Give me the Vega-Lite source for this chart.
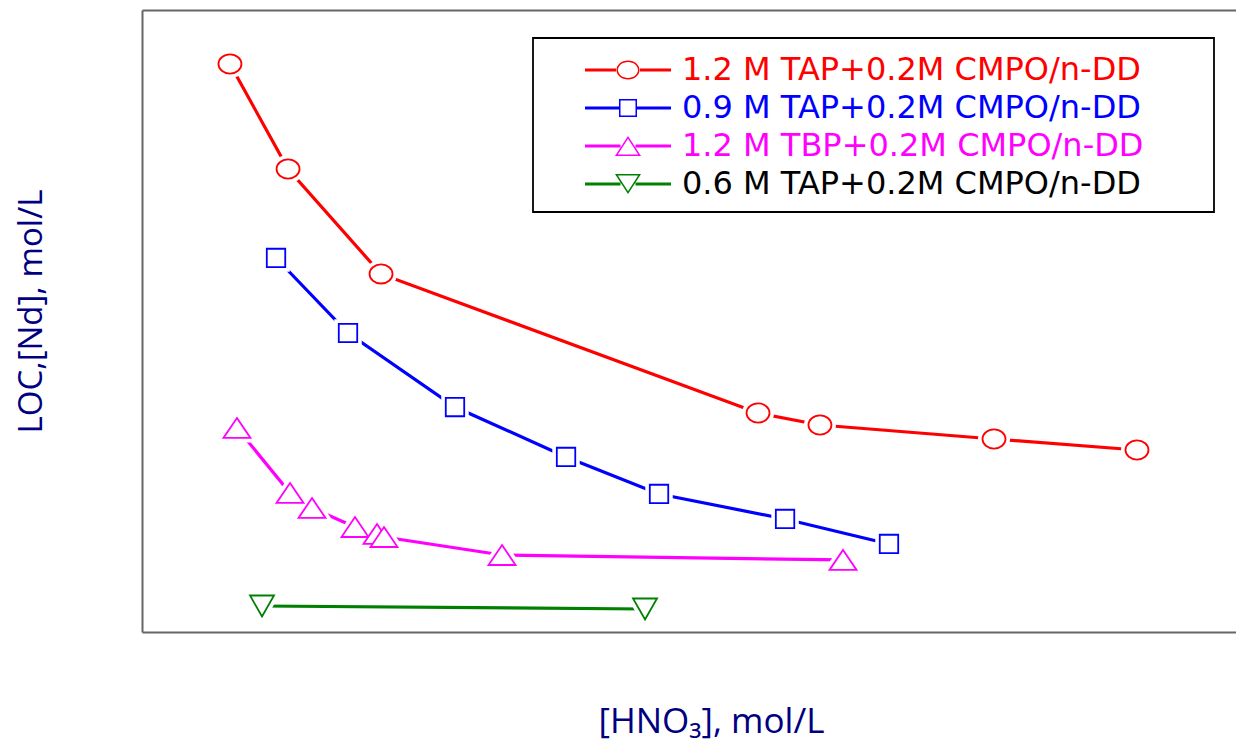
{
  "$schema": "https://vega.github.io/schema/vega-lite/v6.json",
  "width": 1094,
  "height": 622,
  "autosize": "none",
  "padding": {"left": 142, "top": 10, "right": 0, "bottom": 117},
  "background": "white",
  "config": {"view": {"stroke": null}},
  "data": {
    "values": [
      {"series": "1.2 M TAP+0.2M CMPO/n-DD", "x": 0.804, "y": 9.132},
      {"series": "1.2 M TAP+0.2M CMPO/n-DD", "x": 1.335, "y": 7.444},
      {"series": "1.2 M TAP+0.2M CMPO/n-DD", "x": 2.185, "y": 5.756},
      {"series": "1.2 M TAP+0.2M CMPO/n-DD", "x": 5.631, "y": 3.521},
      {"series": "1.2 M TAP+0.2M CMPO/n-DD", "x": 6.197, "y": 3.328},
      {"series": "1.2 M TAP+0.2M CMPO/n-DD", "x": 7.788, "y": 3.103},
      {"series": "1.2 M TAP+0.2M CMPO/n-DD", "x": 9.095, "y": 2.926},
      {"series": "0.9 M TAP+0.2M CMPO/n-DD", "x": 1.225, "y": 6.013},
      {"series": "0.9 M TAP+0.2M CMPO/n-DD", "x": 1.883, "y": 4.807},
      {"series": "0.9 M TAP+0.2M CMPO/n-DD", "x": 2.861, "y": 3.617},
      {"series": "0.9 M TAP+0.2M CMPO/n-DD", "x": 3.876, "y": 2.814},
      {"series": "0.9 M TAP+0.2M CMPO/n-DD", "x": 4.726, "y": 2.219},
      {"series": "0.9 M TAP+0.2M CMPO/n-DD", "x": 5.878, "y": 1.817},
      {"series": "0.9 M TAP+0.2M CMPO/n-DD", "x": 6.828, "y": 1.415},
      {"series": "1.2 M TBP+0.2M CMPO/n-DD", "x": 0.868, "y": 3.28},
      {"series": "1.2 M TBP+0.2M CMPO/n-DD", "x": 1.353, "y": 2.235},
      {"series": "1.2 M TBP+0.2M CMPO/n-DD", "x": 1.554, "y": 1.994},
      {"series": "1.2 M TBP+0.2M CMPO/n-DD", "x": 1.947, "y": 1.688},
      {"series": "1.2 M TBP+0.2M CMPO/n-DD", "x": 2.148, "y": 1.576},
      {"series": "1.2 M TBP+0.2M CMPO/n-DD", "x": 2.212, "y": 1.527},
      {"series": "1.2 M TBP+0.2M CMPO/n-DD", "x": 3.291, "y": 1.238},
      {"series": "1.2 M TBP+0.2M CMPO/n-DD", "x": 6.408, "y": 1.158},
      {"series": "0.6 M TAP+0.2M CMPO/n-DD", "x": 1.097, "y": 0.418},
      {"series": "0.6 M TAP+0.2M CMPO/n-DD", "x": 4.598, "y": 0.37}
    ]
  },
  "encoding": {
    "y": {
      "field": "y", "type": "quantitative",
      "scale": {"domain": [0, 10], "nice": false, "zero": false},
      "axis": {
        "title": "LOC,[Nd], mol/L",
        "domain": true, "domainColor": "#666666", "domainWidth": 2,
        "ticks": false, "labels": false, "grid": false,
        "titleFont": "Open Sans", "titleFontSize": 33, "titleFontWeight": "normal",
        "titleColor": "#000080", "titleAngle": -90,
        "titleX": -111, "titleY": 301, "titleAlign": "center", "titleBaseline": "middle"
      }
    },
    "x": {
      "field": "x", "type": "quantitative",
      "scale": {"domain": [0, 10], "nice": false, "zero": false},
      "axis": null
    }
  },
  "resolve": {"axis": {"x": "independent"}},
  "layer": [
    {
      "mark": {"type": "line", "strokeWidth": 3.2},
      "encoding": {
        "x": {
          "field": "x", "type": "quantitative",
          "scale": {"domain": [0, 10], "nice": false, "zero": false},
          "axis": {
            "orient": "bottom", "title": "[HNO₃], mol/L",
            "domain": true, "domainColor": "#666666", "domainWidth": 2,
            "ticks": false, "labels": false, "grid": false,
            "titleFont": "Open Sans", "titleFontSize": 35, "titleFontWeight": "normal",
            "titleColor": "#000080", "titleX": 569, "titleY": 100,
            "titleAlign": "center", "titleBaseline": "alphabetic"
          }
        },
        "color": {
          "field": "series", "type": "nominal",
          "scale": {
            "domain": ["1.2 M TAP+0.2M CMPO/n-DD", "0.9 M TAP+0.2M CMPO/n-DD", "1.2 M TBP+0.2M CMPO/n-DD", "0.6 M TAP+0.2M CMPO/n-DD"],
            "range": ["#ff0000", "#0000ff", "#ff00ff", "#008000"]
          },
          "legend": {
            "title": " ", "titleFontSize": 1, "titlePadding": 6, "titleColor": "#ffffff",
            "orient": "none", "legendX": 391, "legendY": 28,
            "padding": 9, "rowPadding": 0,
            "strokeColor": "#000000", "fillColor": "#ffffff",
            "labelFont": "DejaVu Sans", "labelFontSize": 32,
            "symbolOffset": 70, "labelOffset": 38, "symbolSize": 400, "symbolStrokeWidth": 0,
            "labelLimit": 0,
            "encode": {
              "legend": {"update": {"strokeWidth": {"value": 1.8}}},
              "symbols": {
                "update": {
                  "shape": {"signal": "datum.value === '1.2 M TAP+0.2M CMPO/n-DD' ? 'M0,-1.9M57.7,1.9M-4.3,-0.15H-1.2V0.15H-4.3ZM1.2,-0.15H4.3V0.15H1.2ZM1.15,0A1.15,0.95 0 1 1 -1.15,0A1.15,0.95 0 1 1 1.15,0ZM1,0A1,0.8 0 1 0 -1,0A1,0.8 0 1 0 1,0Z' : datum.value === '0.9 M TAP+0.2M CMPO/n-DD' ? 'M0,-1.9M57.7,1.9M-4.3,-0.15H-0.9V0.15H-4.3ZM0.9,-0.15H4.3V0.15H0.9ZM-0.9,-0.9H0.9V0.9H-0.9ZM-0.75,-0.75V0.75H0.75V-0.75Z' : datum.value === '1.2 M TBP+0.2M CMPO/n-DD' ? 'M0,-1.9M57.7,1.9M-4.3,-0.15H-0.75V0.15H-4.3ZM0.75,-0.15H4.3V0.15H0.75ZM0,-1L1.3,1L-1.3,1ZM0,-0.725L-1.02,0.85L1.02,0.85Z' : 'M0,-1.9M57.7,1.9M-4.3,-0.15H-0.75V0.15H-4.3ZM0.75,-0.15H4.3V0.15H0.75ZM0,1L-1.3,-1L1.3,-1ZM0,0.725L1.02,-0.85L-1.02,-0.85Z'"},
                  "fill": {"signal": "scale('color', datum.value)"},
                  "fillOpacity": {"value": 1},
                  "stroke": {"value": "transparent"},
                  "strokeWidth": {"value": 0},
                  "opacity": {"value": 1},
                  "size": {"value": 400}
                }
              },
              "labels": {
                "update": {
                  "fill": {"signal": "datum.value === '0.6 M TAP+0.2M CMPO/n-DD' ? '#000000' : scale('color', datum.value)"}
                }
              }
            }
          }
        }
      }
    },
    {
      "transform": [{"filter": "datum.series === '1.2 M TAP+0.2M CMPO/n-DD'"}],
      "mark": {"type": "point", "shape": "M1,0A1,0.83 0 1 1 -1,0A1,0.83 0 1 1 1,0Z", "size": 529, "filled": true, "fill": "white", "stroke": "white", "strokeWidth": 9, "opacity": 1},
      "encoding": {
        "x": {
          "field": "x", "type": "quantitative",
          "scale": {"domain": [0, 10], "nice": false, "zero": false},
          "axis": {
            "orient": "top", "title": null,
            "domain": true, "domainColor": "#666666", "domainWidth": 2,
            "ticks": false, "labels": false, "grid": false
          }
        }
      }
    },
    {
      "transform": [{"filter": "datum.series === '0.9 M TAP+0.2M CMPO/n-DD'"}],
      "mark": {"type": "point", "shape": "square", "size": 340, "filled": true, "fill": "white", "stroke": "white", "strokeWidth": 9, "opacity": 1}
    },
    {
      "transform": [{"filter": "datum.series === '1.2 M TBP+0.2M CMPO/n-DD'"}],
      "mark": {"type": "point", "shape": "M0,-0.74L1,0.74L-1,0.74Z", "size": 729, "filled": true, "fill": "white", "stroke": "white", "strokeWidth": 9, "opacity": 1}
    },
    {
      "transform": [{"filter": "datum.series === '0.6 M TAP+0.2M CMPO/n-DD'"}],
      "mark": {"type": "point", "shape": "M0,0.875L1,-0.875L-1,-0.875Z", "size": 576, "filled": true, "fill": "white", "stroke": "white", "strokeWidth": 9, "opacity": 1}
    },
    {
      "transform": [{"filter": "datum.series === '1.2 M TAP+0.2M CMPO/n-DD'"}],
      "mark": {"type": "point", "shape": "M1,0A1,0.83 0 1 1 -1,0A1,0.83 0 1 1 1,0Z", "size": 529, "filled": true, "fill": "white", "stroke": "#ff0000", "strokeWidth": 1.8, "opacity": 1}
    },
    {
      "transform": [{"filter": "datum.series === '0.9 M TAP+0.2M CMPO/n-DD'"}],
      "mark": {"type": "point", "shape": "square", "size": 340, "filled": true, "fill": "white", "stroke": "#0000ff", "strokeWidth": 1.8, "opacity": 1}
    },
    {
      "transform": [{"filter": "datum.series === '1.2 M TBP+0.2M CMPO/n-DD'"}],
      "mark": {"type": "point", "shape": "M0,-0.74L1,0.74L-1,0.74Z", "size": 729, "filled": true, "fill": "white", "stroke": "#ff00ff", "strokeWidth": 1.8, "opacity": 1}
    },
    {
      "transform": [{"filter": "datum.series === '0.6 M TAP+0.2M CMPO/n-DD'"}],
      "mark": {"type": "point", "shape": "M0,0.875L1,-0.875L-1,-0.875Z", "size": 576, "filled": true, "fill": "white", "stroke": "#008000", "strokeWidth": 1.8, "opacity": 1}
    }
  ]
}
